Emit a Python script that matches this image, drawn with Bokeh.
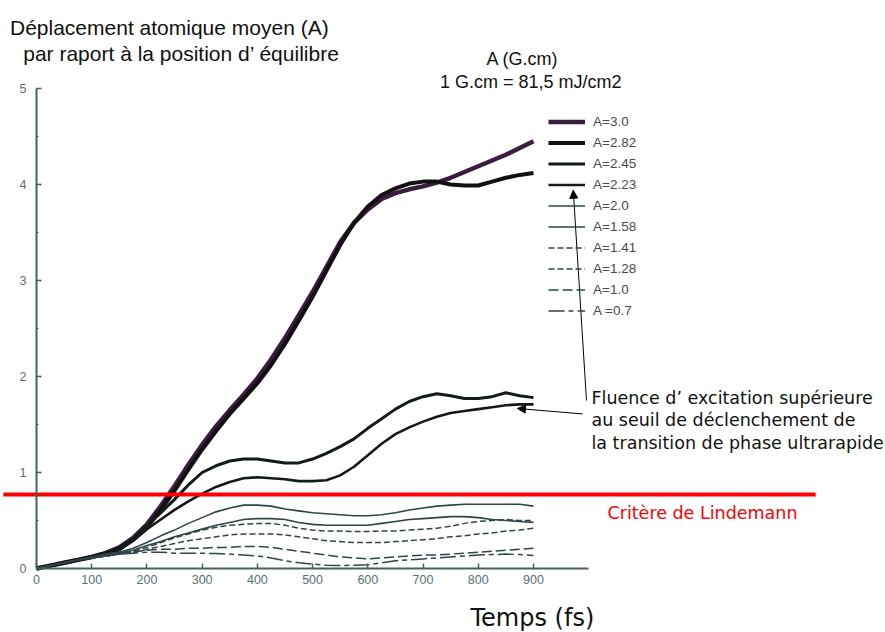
from bokeh.plotting import figure
from bokeh.models import (Range1d, FixedTicker, Legend, LegendItem, Label,
                          Arrow, NormalHead)
from bokeh.embed import file_html
from bokeh.resources import INLINE

# Time axis (fs), one sample every 25 fs
times = [0, 25, 50, 75, 100, 125, 150, 175, 200, 225, 250, 275, 300,
         325, 350, 375, 400, 425, 450, 475, 500, 525, 550, 575, 600,
         625, 650, 675, 700, 725, 750, 775, 800, 825, 850, 875, 900]

# Mean atomic displacement for each fluence A (G.cm)
disp_300 = [0, 0.03, 0.06, 0.09, 0.12, 0.16, 0.22, 0.32, 0.46, 0.65, 0.86, 1.08, 1.29,
            1.48, 1.65, 1.81, 1.98, 2.18, 2.40, 2.64, 2.88, 3.14, 3.40, 3.60, 3.74,
            3.85, 3.91, 3.95, 3.98, 4.02, 4.07, 4.13, 4.19, 4.25, 4.31, 4.38, 4.45]
disp_282 = [0, 0.03, 0.06, 0.09, 0.12, 0.16, 0.21, 0.30, 0.43, 0.61, 0.81, 1.03, 1.24,
            1.43, 1.61, 1.77, 1.93, 2.12, 2.34, 2.58, 2.83, 3.10, 3.37, 3.60, 3.77,
            3.89, 3.96, 4.01, 4.03, 4.03, 4.00, 3.99, 3.99, 4.03, 4.07, 4.10, 4.12]
disp_245 = [0, 0.03, 0.06, 0.09, 0.12, 0.15, 0.20, 0.30, 0.45, 0.58, 0.72, 0.87, 1.00,
            1.07, 1.12, 1.14, 1.14, 1.12, 1.10, 1.10, 1.14, 1.20, 1.27, 1.35, 1.46,
            1.56, 1.66, 1.74, 1.79, 1.82, 1.80, 1.77, 1.77, 1.79, 1.83, 1.80, 1.78]
disp_223 = [0, 0.03, 0.06, 0.09, 0.12, 0.15, 0.19, 0.29, 0.41, 0.51, 0.61, 0.70, 0.78,
            0.85, 0.90, 0.94, 0.95, 0.94, 0.93, 0.91, 0.91, 0.92, 0.97, 1.06, 1.18,
            1.30, 1.40, 1.47, 1.53, 1.58, 1.62, 1.64, 1.66, 1.68, 1.70, 1.71, 1.71]
disp_200 = [0, 0.03, 0.06, 0.09, 0.12, 0.15, 0.17, 0.21, 0.27, 0.34, 0.40, 0.47, 0.53,
            0.59, 0.63, 0.66, 0.66, 0.65, 0.62, 0.60, 0.58, 0.57, 0.56, 0.55, 0.55,
            0.56, 0.58, 0.61, 0.63, 0.65, 0.66, 0.67, 0.67, 0.67, 0.67, 0.67, 0.65]
disp_158 = [0, 0.03, 0.06, 0.09, 0.11, 0.14, 0.16, 0.19, 0.24, 0.28, 0.33, 0.37, 0.41,
            0.45, 0.48, 0.51, 0.52, 0.52, 0.51, 0.48, 0.46, 0.45, 0.45, 0.45, 0.45,
            0.47, 0.49, 0.51, 0.52, 0.53, 0.54, 0.54, 0.53, 0.51, 0.50, 0.49, 0.48]
disp_141 = [0, 0.03, 0.06, 0.09, 0.11, 0.13, 0.15, 0.18, 0.22, 0.27, 0.32, 0.36, 0.40,
            0.43, 0.45, 0.46, 0.47, 0.47, 0.45, 0.42, 0.40, 0.39, 0.39, 0.385, 0.385,
            0.39, 0.39, 0.40, 0.41, 0.42, 0.44, 0.47, 0.49, 0.50, 0.51, 0.50, 0.50]
disp_128 = [0, 0.03, 0.06, 0.09, 0.11, 0.13, 0.15, 0.17, 0.20, 0.23, 0.26, 0.29, 0.31,
            0.33, 0.35, 0.36, 0.36, 0.36, 0.35, 0.33, 0.31, 0.29, 0.28, 0.27, 0.27,
            0.27, 0.28, 0.29, 0.30, 0.31, 0.33, 0.34, 0.36, 0.37, 0.39, 0.40, 0.42]
disp_100 = [0, 0.03, 0.06, 0.09, 0.11, 0.13, 0.15, 0.17, 0.19, 0.20, 0.20, 0.21, 0.21,
            0.22, 0.22, 0.23, 0.23, 0.22, 0.20, 0.18, 0.16, 0.14, 0.12, 0.11, 0.10,
            0.11, 0.12, 0.13, 0.14, 0.14, 0.15, 0.16, 0.17, 0.18, 0.19, 0.20, 0.21]
disp_070 = [0, 0.03, 0.06, 0.09, 0.11, 0.13, 0.15, 0.16, 0.17, 0.17, 0.16, 0.16, 0.16,
            0.155, 0.15, 0.14, 0.13, 0.11, 0.08, 0.06, 0.045, 0.035, 0.03, 0.035, 0.04,
            0.06, 0.08, 0.09, 0.10, 0.11, 0.12, 0.13, 0.14, 0.145, 0.15, 0.145, 0.135]

series_labels = ["A=3.0", "A=2.82", "A=2.45", "A=2.23", "A=2.0",
                 "A=1.58", "A=1.41", "A=1.28", "A=1.0", "A =0.7"]
series_values = [disp_300, disp_282, disp_245, disp_223, disp_200,
                 disp_158, disp_141, disp_128, disp_100, disp_070]

x_ticks = [0, 100, 200, 300, 400, 500, 600, 700, 800, 900]
y_ticks = [0, 1, 2, 3, 4, 5]
y_minor = [0.5, 1.5, 2.5, 3.5, 4.5]

# Lindemann melting criterion
lindemann = 0.77

# line styles per series
styles = [
    dict(line_color="#3a1c3e", line_width=4.5, line_dash="solid"),
    dict(line_color="#111111", line_width=4.0, line_dash="solid"),
    dict(line_color="#141a1a", line_width=3.0, line_dash="solid"),
    dict(line_color="#141a1a", line_width=2.6, line_dash="solid"),
    dict(line_color="#2d4645", line_width=1.6, line_dash="solid"),
    dict(line_color="#2d4645", line_width=1.6, line_dash="solid"),
    dict(line_color="#2d4645", line_width=1.5, line_dash="6 3"),
    dict(line_color="#2d4645", line_width=1.5, line_dash="6 3"),
    dict(line_color="#2d4645", line_width=1.5, line_dash="10 4"),
    dict(line_color="#2d4645", line_width=1.5, line_dash="16 4 5 4"),
]

axis_color = "#46625f"
tick_label_color = "#587170"

# The frame fills the whole canvas; the axes sit at the data origin.
p = figure(width=885, height=632, output_backend="svg", toolbar_location=None,
           x_range=Range1d(-65.2, 1537.5), y_range=Range1d(-0.6667, 5.9167),
           min_border=0, min_border_left=0, min_border_right=0,
           min_border_top=0, min_border_bottom=0)
p.title.visible = False
p.outline_line_color = None
p.grid.visible = False
p.background_fill_color = "white"
p.border_fill_color = "white"

p.xaxis.fixed_location = 0
p.yaxis.fixed_location = 0
p.xaxis.ticker = FixedTicker(ticks=x_ticks)
p.xaxis.bounds = (0, 1000)
p.yaxis.ticker = FixedTicker(ticks=y_ticks, minor_ticks=y_minor)
p.yaxis.bounds = (0, 5)
for ax in (p.xaxis[0], p.yaxis[0]):
    ax.axis_line_color = axis_color
    ax.axis_line_width = 2
    ax.major_tick_line_color = axis_color
    ax.major_tick_line_width = 1.5
    ax.major_tick_in = 5
    ax.major_tick_out = 0
    ax.minor_tick_line_color = axis_color
    ax.minor_tick_in = 2
    ax.minor_tick_out = 0
    ax.major_label_text_color = tick_label_color
    ax.major_label_text_font = "Liberation Sans"
    ax.major_label_text_font_size = "12.5px"
p.xaxis.minor_tick_line_color = None
p.xaxis.major_label_standoff = 7
p.yaxis.major_label_standoff = 10

# curves
renderers = []
for vals, st in zip(series_values, styles):
    r = p.line(times, vals, line_join="round", **st)
    renderers.append(r)

legend = Legend(items=[LegendItem(label=lab, renderers=[r])
                       for lab, r in zip(series_labels, renderers)],
                location=(548, 311), orientation="vertical",
                glyph_width=37, glyph_height=21, label_height=21,
                spacing=0, padding=0, margin=0, label_standoff=8,
                border_line_alpha=0, background_fill_alpha=0,
                label_text_font="Liberation Sans",
                label_text_font_size="13.5px", label_text_color="#4a4a4a")
p.add_layout(legend, "center")

# Lindemann criterion line and caption
p.segment(x0=-60, y0=lindemann, x1=1411, y1=lindemann,
          line_color="#ff0000", line_width=4)
p.add_layout(Label(x=1034, y=0.573, text="Critère de Lindemann",
                   text_font="DejaVu Sans", text_font_size="17.5px",
                   text_color="#ff0000", text_baseline="middle"))

# annotation with arrows
note_lines = ["Fluence d\u2019 excitation supérieure",
              "au seuil de déclenchement de",
              "la transition de phase ultrarapide"]
for i, line in enumerate(note_lines):
    p.add_layout(Label(x=1005, y=1.78 - 0.234 * i, text=line,
                       text_font="DejaVu Sans", text_font_size="17.5px",
                       text_color="#111111", text_baseline="middle"))
p.add_layout(Arrow(end=NormalHead(size=8, fill_color="black", line_color="black"),
                   x_start=996, y_start=1.75, x_end=972, y_end=3.94,
                   line_color="black", line_width=1))
p.add_layout(Arrow(end=NormalHead(size=8, fill_color="black", line_color="black"),
                   x_start=989, y_start=1.61, x_end=871, y_end=1.667,
                   line_color="black", line_width=1))

# headings
p.add_layout(Label(x=-48, y=5.635, text="Déplacement atomique moyen (A)",
                   text_font="Liberation Sans", text_font_size="21px",
                   text_color="#111111", text_baseline="alphabetic"))
p.add_layout(Label(x=-24, y=5.365, text="par raport à la position d\u2019 équilibre",
                   text_font="Liberation Sans", text_font_size="21px",
                   text_color="#111111", text_baseline="alphabetic"))
p.add_layout(Label(x=880, y=5.31, text="A (G.cm)",
                   text_font="Liberation Sans", text_font_size="18px",
                   text_color="#111111", text_baseline="alphabetic", text_align="center"))
p.add_layout(Label(x=895, y=5.065, text="1 G.cm = 81,5 mJ/cm2",
                   text_font="Liberation Sans", text_font_size="18px",
                   text_color="#111111", text_baseline="alphabetic", text_align="center"))
p.add_layout(Label(x=898, y=-0.52, text="Temps (fs)",
                   text_font="DejaVu Sans", text_font_size="24px",
                   text_color="#111111", text_baseline="middle", text_align="center"))

open("out.html", "w").write(file_html(p, INLINE))
